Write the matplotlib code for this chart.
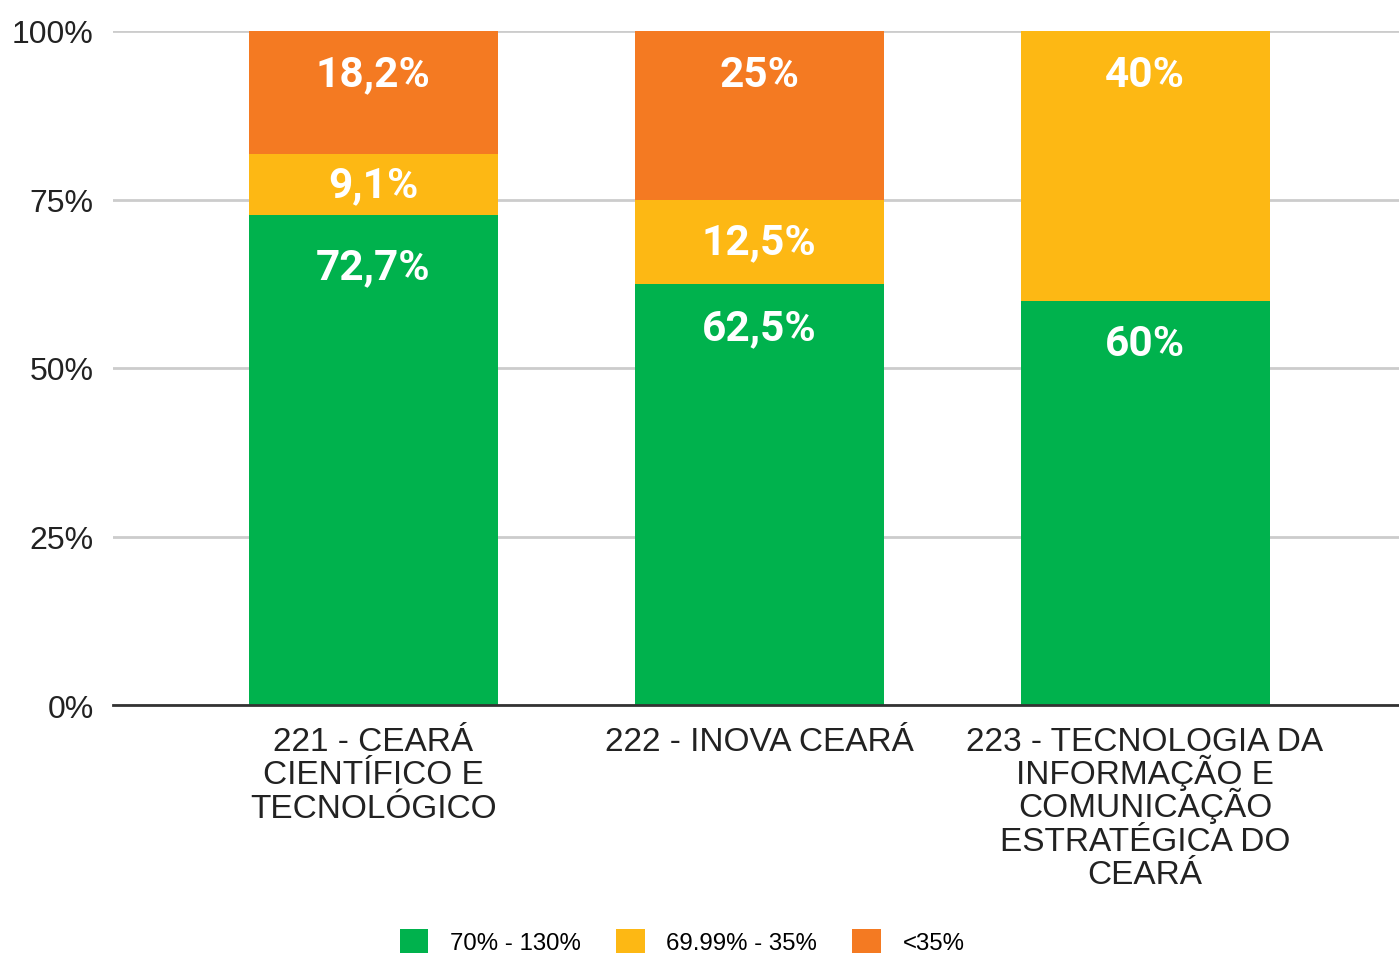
import matplotlib
matplotlib.use("Agg")
import matplotlib.pyplot as plt
from matplotlib.patches import Patch

categories = ["221 - CEARÁ\nCIENTÍFICO E\nTECNOLÓGICO",
              "222 - INOVA CEARÁ",
              "223 - TECNOLOGIA DA\nINFORMAÇÃO E\nCOMUNICAÇÃO\nESTRATÉGICA DO\nCEARÁ"]
series_names = ["70% - 130%", "69.99% - 35%", "<35%"]
green_vals = [72.7, 62.5, 60.0]
yellow_vals = [9.1, 12.5, 40.0]
orange_vals = [18.2, 25.0, 0.0]
colors = ["#00b24d", "#fdb814", "#f47a22"]
yticks = [0, 25, 50, 75, 100]
ytick_labels = ["0%", "25%", "50%", "75%", "100%"]

DPI = 100
fig = plt.figure(figsize=(13.99, 9.54), dpi=DPI)
ax = fig.add_axes([113/1399, (954-706)/954, 1 - 113/1399, (706-32)/954])

x = list(range(len(categories)))
width = 249/386
bottoms = [0.0]*len(x)
for vals, col in zip([green_vals, yellow_vals, orange_vals], colors):
    ax.bar(x, vals, width, bottom=bottoms, color=col, zorder=3)
    for i, v in enumerate(vals):
        if v <= 0:
            continue
        top = bottoms[i] + v
        off = min(max(6.4, 0.105*v), v/2)
        txt = (f"{v:.1f}".replace(".", ",") if abs(v - round(v)) > 1e-9 else f"{int(round(v))}") + "%"
        ax.text(i, top - off, txt, ha="center", va="center", color="white",
                fontsize=30.5, fontweight="bold", family=["Roboto", "DejaVu Sans"], zorder=4)
    bottoms = [b + v for b, v in zip(bottoms, vals)]

ax.set_xlim(-0.674, 2.658)
ax.set_ylim(0, 100)
ax.set_yticks(yticks)
ax.set_yticklabels(ytick_labels, family="Liberation Sans", fontsize=23, color="#222222")
ax.set_xticks(x)
ax.set_xticklabels([""]*len(x))
px2pt = 72 / DPI
for i, cat in enumerate(categories):
    for k, line in enumerate(cat.split("\n")):
        ax.annotate(line, xy=(i, 0), xycoords=ax.get_xaxis_transform(),
                    xytext=(0, -(45 + 33.25*k)*px2pt), textcoords="offset points",
                    ha="center", va="baseline", family="Liberation Sans",
                    fontsize=24, color="#222222", annotation_clip=False)
ax.tick_params(axis="both", length=0)
ax.tick_params(axis="y", pad=14)
ax.grid(axis="y", color="#cccccc", linewidth=2, zorder=0)
ax.set_axisbelow(True)
for s in ["top", "right", "left"]:
    ax.spines[s].set_visible(False)
ax.spines["bottom"].set_color("#333333")
ax.spines["bottom"].set_linewidth(2)
ax.spines["bottom"].set_zorder(5)

handles = [Patch(facecolor=c, edgecolor="none") for c in colors]
fig.legend(handles, series_names, loc="upper center", bbox_to_anchor=(682/1399, (954-930)/954),
           ncol=3, frameon=False, prop={"family": "Liberation Sans", "size": 17.3},
           handlelength=1.2, handleheight=1.2, handletextpad=0.9, columnspacing=1.45,
           borderaxespad=0, borderpad=0)

fig.savefig("out.png", dpi=DPI)
